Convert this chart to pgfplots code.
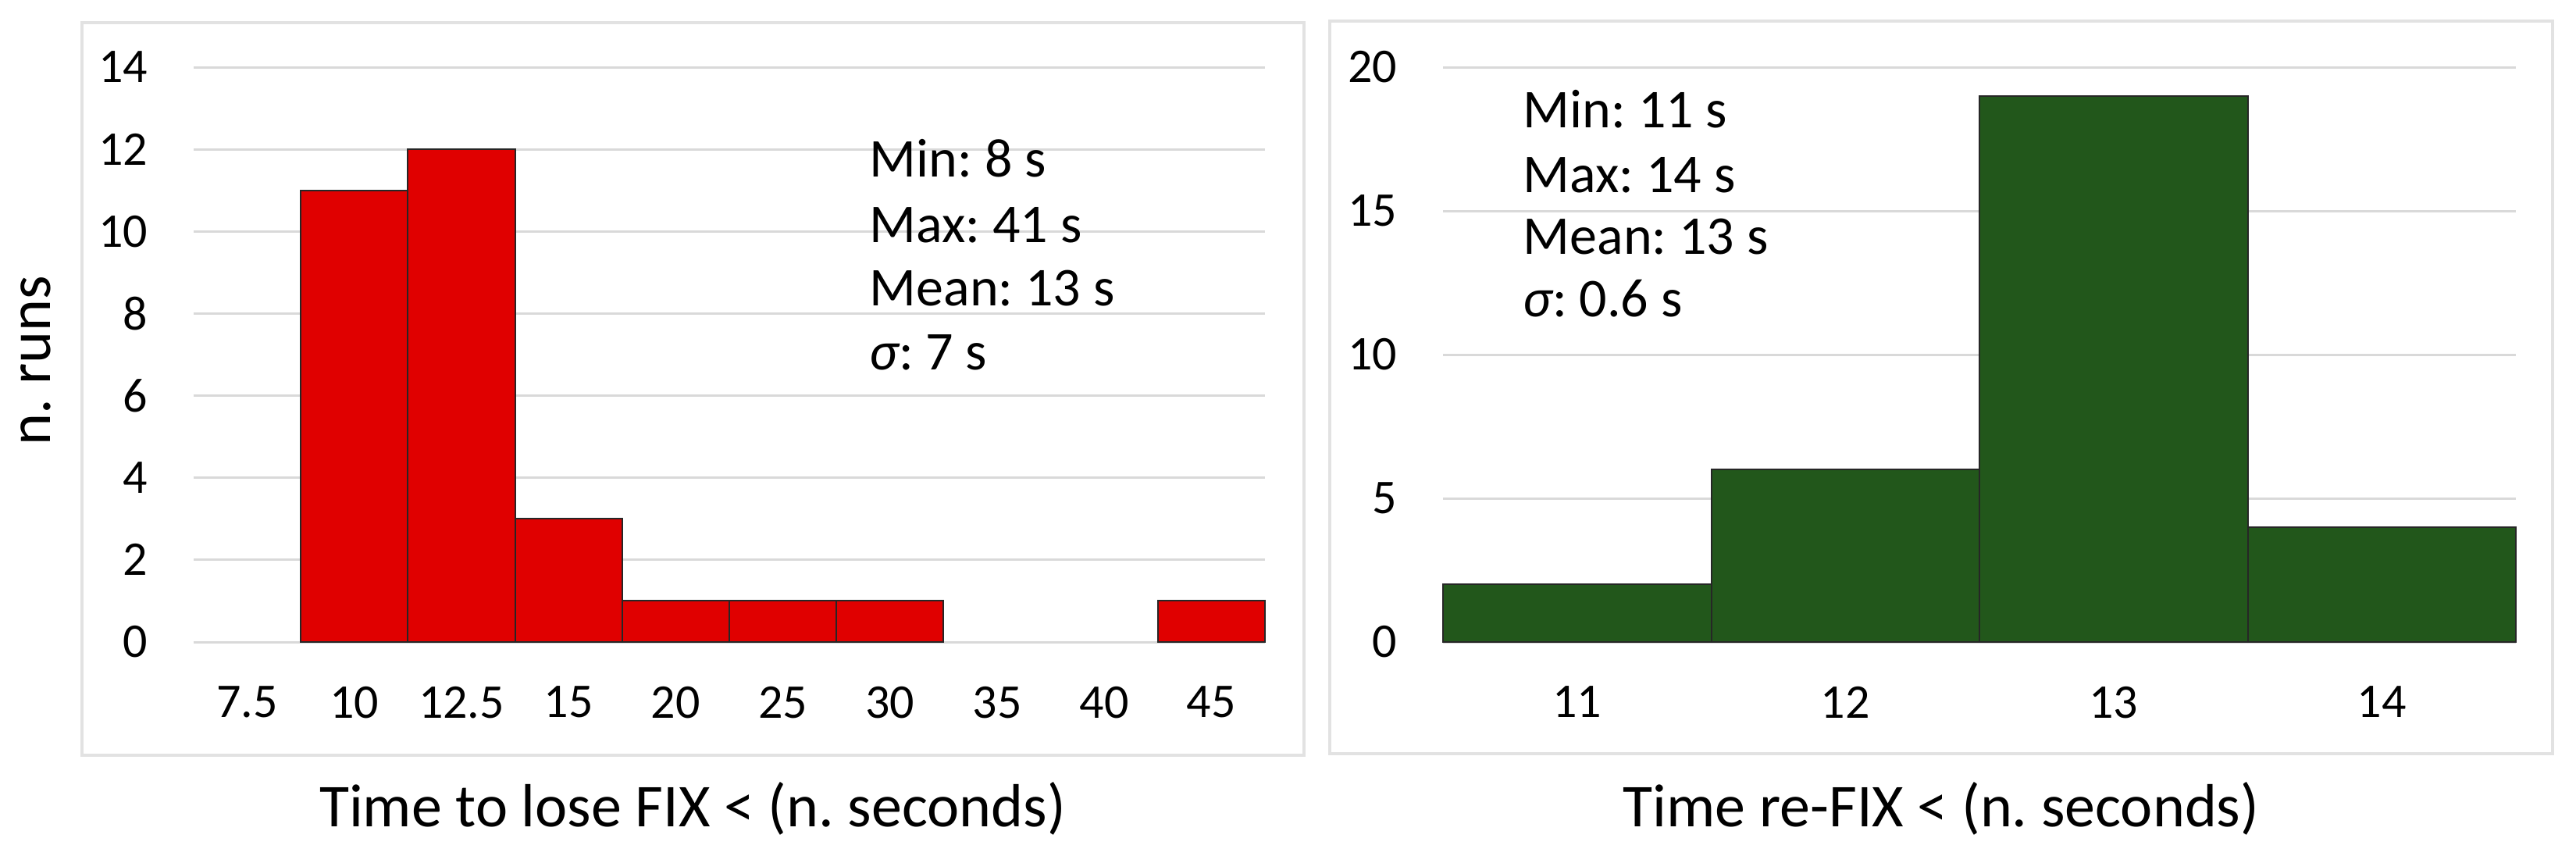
\documentclass[border=0pt]{standalone}
\usepackage{pgfplots}
\pgfplotsset{compat=1.18}
\usepackage{fontspec}
\setmainfont{Carlito}
\frenchspacing
\definecolor{barred}{RGB}{224,0,0}
\definecolor{bargreen}{RGB}{34,87,27}
\definecolor{gridgray}{RGB}{217,217,217}
\definecolor{panelgray}{RGB}{226,226,226}
\begin{document}
\frenchspacing
\begin{tikzpicture}
\pgfplotsset{
 hist/.style={
  scale only axis, width=343pt, height=184pt,
  anchor=south west,
  ymin=0, enlargelimits=false,
  axis line style={draw=none},
  tick style={draw=none},
  major tick length=0pt,
  ymajorgrids, grid style={gridgray, line width=0.75pt},
  ticklabel style={font=\fontsize{15.5}{18}\selectfont, inner sep=0pt},
  yticklabel style={anchor=east, xshift=-14.5pt},
  xticklabel style={anchor=north, yshift=-14pt},
  /pgf/number format/assume math mode=true,
  ybar, bar width=1,
  clip=false,
 }
}
\draw[panelgray, line width=1pt] (26.25pt,32pt) rectangle (417.5pt,266.5pt);
\draw[panelgray, line width=1pt] (425.75pt,32.5pt) rectangle (817.25pt,267pt);
\begin{axis}[hist, at={(62pt,68.25pt)}, xmin=-0.5, xmax=9.5, ymax=14,
  ytick={0,2,...,14}, xtick={0,...,9},
  xticklabels={7.5,10,12.5,15,20,25,30,35,40,45}]
\addplot[fill=barred, draw=black!85, line width=0.5pt] coordinates {(1,11) (2,12) (3,3) (4,1) (5,1) (6,1) (9,1)};
\end{axis}
\begin{axis}[hist, at={(462pt,68.25pt)}, width=343.5pt, xmin=-0.5, xmax=3.5, ymax=20,
  ytick={0,5,...,20}, xtick={0,...,3},
  xticklabels={11,12,13,14}]
\addplot[fill=bargreen, draw=black!85, line width=0.5pt] coordinates {(0,2) (1,6) (2,19) (3,4)};
\end{axis}
\node[rotate=90, anchor=base, inner sep=0pt, font=\fontsize{19.5}{23}\selectfont] at (16.25pt,158.25pt) {n. runs};
\node[anchor=base, inner sep=0pt, font=\fontsize{19.5}{23}\selectfont] at (221.75pt,9.25pt) {Time to lose FIX < (n. seconds)};
\node[anchor=base, inner sep=0pt, font=\fontsize{19.5}{23}\selectfont] at (621.5pt,9.25pt) {Time re-FIX < (n. seconds)};
\begin{scope}[every node/.style={anchor=base west, inner sep=0pt, font=\fontsize{17.5}{21}\selectfont}]
\node at (278.25pt,217pt) {Min: 8 s};
\node at (278.25pt,196.25pt) {Max: 41 s};
\node at (278.25pt,175.75pt) {Mean: 13 s};
\node at (278.25pt,155.5pt) {{\itshape σ}: 7 s};
\node at (487.5pt,233pt) {Min: 11 s};
\node at (487.5pt,212pt) {Max: 14 s};
\node at (487.5pt,192.5pt) {Mean: 13 s};
\node at (487.5pt,172.5pt) {{\itshape σ}: 0.6 s};
\end{scope}
\pgfresetboundingbox
\path (0pt,0pt) rectangle (824.75pt,273.75pt);
\end{tikzpicture}
\end{document}
